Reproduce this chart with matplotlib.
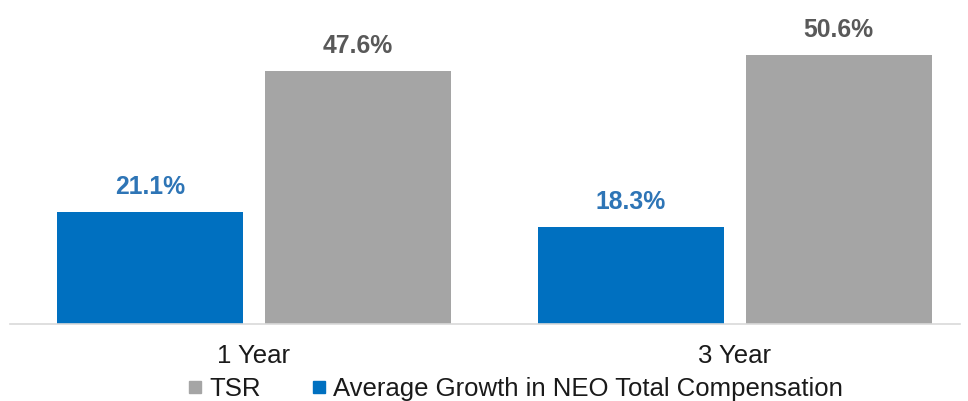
import matplotlib
matplotlib.use("Agg")
import matplotlib.pyplot as plt
from matplotlib.lines import Line2D

categories = ["1 Year", "3 Year"]
neo_growth = [21.1, 18.3]
tsr = [47.6, 50.6]
neo_labels = ["21.1%", "18.3%"]
tsr_labels = ["47.6%", "50.6%"]
series_names = ["TSR", "Average Growth in NEO Total Compensation"]

BLUE = "#0070C0"
GRAY = "#A5A5A5"

plt.rcParams["font.family"] = ["Liberation Sans", "DejaVu Sans"]

W, H = 968, 401
fig = plt.figure(figsize=(W / 100, H / 100), dpi=100)
ax = fig.add_axes([10 / W, 77 / H, 950 / W, 324 / H])

x = list(range(len(categories)))
bw = 0.387
off = 0.216
ax.bar([i - off for i in x], neo_growth, width=bw, color=BLUE)
ax.bar([i + off for i in x], tsr, width=bw, color=GRAY)

for i in x:
    ax.annotate(neo_labels[i], (i - off, neo_growth[i]), xytext=(0, 18),
                textcoords="offset points", ha="center", va="center",
                fontsize=17.8, fontweight="bold", color="#2E75B6")
    ax.annotate(tsr_labels[i], (i + off, tsr[i]), xytext=(0, 18),
                textcoords="offset points", ha="center", va="center",
                fontsize=17.8, fontweight="bold", color="#595959")

ax.set_xlim(-0.507, 1.468)
ax.set_ylim(0, 60.9)
ax.set_yticks([])
ax.set_xticks(x)
ax.set_xticklabels(categories, fontsize=18.5, color="#1a1a1a")
ax.tick_params(axis="x", length=0, pad=14.5)
for s in ["top", "left", "right"]:
    ax.spines[s].set_visible(False)
ax.spines["bottom"].set_color("#D9D9D9")
ax.spines["bottom"].set_linewidth(1.2)

handles = [
    Line2D([], [], linestyle="none", marker="s", markersize=8, color=GRAY),
    Line2D([], [], linestyle="none", marker="s", markersize=8, color=BLUE),
]
fig.legend(handles, series_names, loc="center", bbox_to_anchor=(516 / W, 1 - 389 / H),
           ncol=2, frameon=False, fontsize=18.5, handlelength=0.5,
           handletextpad=0.3, columnspacing=2.0, borderpad=0, labelcolor="#1a1a1a")

fig.savefig("out.png", dpi=100)
